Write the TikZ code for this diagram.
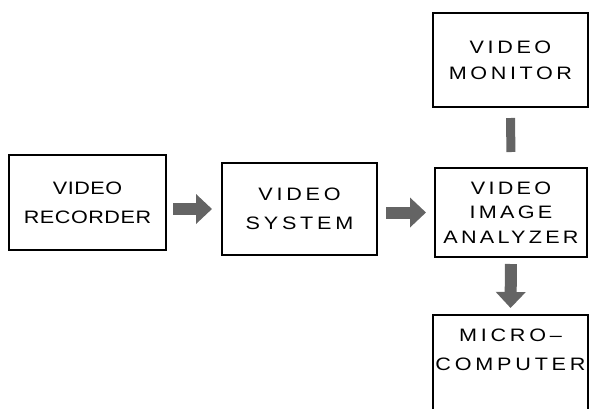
\documentclass[tikz,border=0pt]{standalone}
\usepackage{fontspec}
\setmainfont{Liberation Sans}
\usetikzlibrary{arrows.meta,calc}
\definecolor{flowgray}{RGB}{100,100,100}
% wide spaced capitals: #1 = letter spacing, #2 = line distance
\newcommand{\trackedfont}[2]{\fontsize{18}{#2}\selectfont
    \addfontfeature{FakeStretch=1.2, LetterSpace=#1}}

\begin{document}
\begin{tikzpicture}[x=1pt, y=-1pt,
    unit/.style={draw, line width=2pt, align=center, inner sep=0pt,
        font=\trackedfont{20}{27}},
    flow/.style={line width=12pt, flowgray,
        -{Triangle[length=16pt, width=29pt]}},
    link/.style={line width=9pt, flowgray}]
\useasboundingbox (0,0) rectangle (589,408);
\clip (0,0) rectangle (589,408);

% Blocks
\node[unit, minimum width=157, minimum height=95, font=\trackedfont{3}{29}]
    (rec) at (87.5,202.5) {VIDEO\\RECORDER};
\node[unit, minimum width=155, minimum height=92, font=\trackedfont{21}{29}]
    (sys) at (299.5,209) {VIDEO\\SYSTEM};
\node[unit, minimum width=155, minimum height=94, font=\trackedfont{20}{26}]
    (mon) at (510.5,60) {VIDEO\\MONITOR};
\node[unit, minimum width=152, minimum height=89, font=\trackedfont{18}{24.5}]
    (ana) at (511,212.5) {VIDEO\\IMAGE\\ANALYZER};
\node[unit, minimum width=155, minimum height=110, anchor=north]
    (mic) at (510.5,314) {};
\node[align=center, inner sep=0pt, font=\trackedfont{21}{29}, anchor=north]
    (miclabel) at ($(mic.north)+(0,15)$) {MICRO--\\COMPUTER};

% Flow between blocks
\draw[flow, shorten <=6pt, shorten >=9pt] (rec.east |- sys.west) -- (sys.west);
\draw[flow, shorten <=8pt, shorten >=8pt] (sys.east |- ana.west) -- (ana.west);
\draw[link, shorten <=10pt, shorten >=15pt] (mon.south) -- (ana.north);
\draw[flow, shorten <=6pt, shorten >=6pt] (ana.south) -- (mic.north);
\end{tikzpicture}
\end{document}
